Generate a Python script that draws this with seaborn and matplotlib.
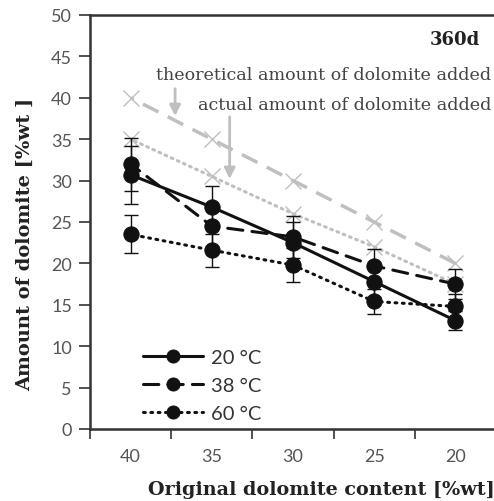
import matplotlib
matplotlib.use("Agg")
import matplotlib.pyplot as plt
import seaborn as sns
import pandas as pd
import numpy as np

content = [40, 35, 30, 25, 20]
theoretical = [40, 35, 30, 25, 20]
actual = [35.0, 30.5, 26.0, 22.0, 17.5]
t20 = [30.7, 26.8, 22.5, 17.8, 13.1]
t38 = [32.0, 24.5, 23.2, 19.7, 17.5]
t60 = [23.5, 21.6, 19.8, 15.4, 14.8]
e20 = [3.5, 2.5, 2.5, 1.8, 1.2]
e38 = [3.2, 2.5, 2.5, 2.0, 1.8]
e60 = [2.3, 2.0, 2.0, 1.5, 1.5]
series_labels = ["20 °C", "38 °C", "60 °C"]
y_ticks = [0, 5, 10, 15, 20, 25, 30, 35, 40, 45, 50]

sns.set_theme(style="white")
plt.rcParams["font.family"] = ["Lato", "DejaVu Sans"]

fig = plt.figure(figsize=(4.94, 5.02), dpi=100)
ax = fig.add_axes([90/494, 72/502, 406/494, 414/502])

gray = "#bfbfbf"
dark = "#111111"

df_ref = pd.DataFrame({"content": content, "theoretical": theoretical, "actual": actual})
sns.lineplot(data=df_ref, x="content", y="theoretical", ax=ax, color=gray, lw=2.5,
             linestyle=(0, (5, 3)), marker="x", markersize=11, markeredgewidth=1.0,
             markeredgecolor=gray, zorder=1)
sns.lineplot(data=df_ref, x="content", y="actual", ax=ax, color=gray, lw=2.2,
             linestyle=(0, (0.6, 1.6)), dash_capstyle="round", marker="x", markersize=11,
             markeredgewidth=1.0, markeredgecolor=gray, zorder=1)

styles = ["-", (0, (5, 3)), (0, (0.6, 1.8))]
for vals, errs, ls, lab in zip([t20, t38, t60], [e20, e38, e60], styles, series_labels):
    d = pd.DataFrame({"content": content, "val": vals})
    ax.errorbar(content, vals, yerr=errs, fmt="none", ecolor=dark, elinewidth=1.0,
                capsize=5, capthick=1.0, zorder=2)
    sns.lineplot(data=d, x="content", y="val", ax=ax, color=dark, lw=2.2, linestyle=ls,
                 dash_capstyle="round", marker="o", markersize=11, markeredgecolor=dark,
                 label=lab, zorder=3)

ax.set_xlim(42.5, 17.5)
ax.set_ylim(0, 50)
ax.set_yticks(y_ticks)
ax.set_xticks([42.5, 37.5, 32.5, 27.5, 22.5, 17.5])
ax.set_xticklabels([])
ax.set_xticks(content, minor=True)
ax.set_xticklabels([str(c) for c in content], minor=True)
ax.tick_params(axis="x", which="major", direction="out", length=7, width=1.2, color="#333333", bottom=True)
ax.tick_params(axis="x", which="minor", length=0, pad=14, labelsize=13, labelcolor="#555555")
ax.tick_params(axis="y", direction="out", length=8, width=1.2, color="#333333", left=True,
               labelsize=13, labelcolor="#555555", pad=5)
for s in ax.spines.values():
    s.set_color("#333333")
    s.set_linewidth(1.8)
ax.grid(False)

ax.set_xlabel("")
ax.set_ylabel("")
fig.text(321/494, 1 - 490/502, "Original dolomite content [%wt]", ha="center", va="center",
         family="DejaVu Serif", fontweight="bold", fontsize=13.8, color="#222222")
fig.text(25/494, 1 - 244/502, "Amount of dolomite [%wt ]", ha="center", va="center",
         rotation=90, family="DejaVu Serif", fontweight="bold", fontsize=14, color="#222222")

fig.text(480/494, 1 - 40/502, "360d", ha="right", va="center",
         family="DejaVu Serif", fontweight="bold", fontsize=13, color="#222222")

ax.annotate("", xy=(37.26, 37.8), xytext=(37.26, 41.1),
            arrowprops=dict(arrowstyle="-|>", color=gray, lw=2, mutation_scale=16,
                            shrinkA=0, shrinkB=0))
ax.annotate("", xy=(33.9, 30.2), xytext=(33.9, 37.7),
            arrowprops=dict(arrowstyle="-|>", color=gray, lw=2, mutation_scale=16,
                            shrinkA=0, shrinkB=0))
fig.text(491/494, 1 - 76/502, "theoretical amount of dolomite added", ha="right", va="center",
         family="DejaVu Serif", fontsize=12.6, color="#444444")
fig.text(491/494, 1 - 105/502, "actual amount of dolomite added", ha="right", va="center",
         family="DejaVu Serif", fontsize=12.6, color="#444444")

leg = ax.legend(loc="lower left", bbox_to_anchor=(0.085, -0.028), frameon=False, fontsize=14.5,
                handlelength=3.0, labelspacing=0.55, handletextpad=0.4, labelcolor="#333333",
                markerscale=0.85)

fig.savefig("out.png", dpi=100)
